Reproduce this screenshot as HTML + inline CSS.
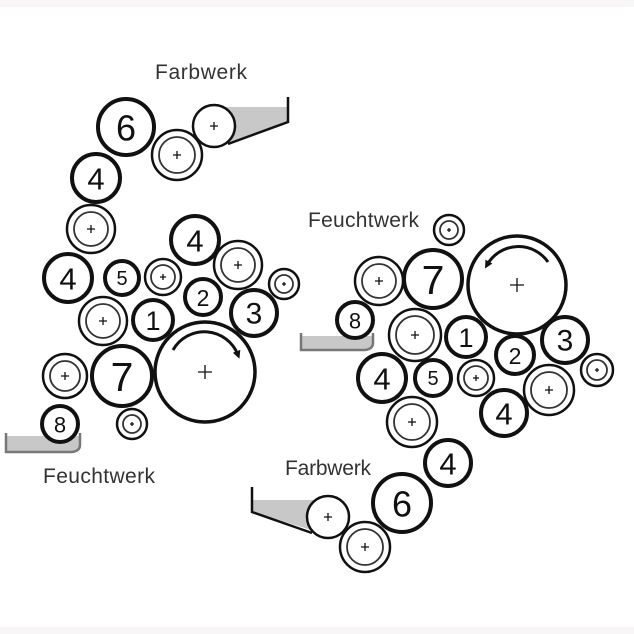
<!DOCTYPE html>
<html><head><meta charset="utf-8"><style>
html,body{margin:0;padding:0;background:#fff;width:634px;height:634px;overflow:hidden}
svg{display:block}
text{font-family:"Liberation Sans",sans-serif;fill:#222}
.n{font-size:34px;text-anchor:middle;dominant-baseline:central;fill:#111}
.t{font-size:21px;fill:#333}
</style></head><body>
<svg width="634" height="634" viewBox="0 0 634 634">
<rect x="0" y="0" width="634" height="7" fill="#f8f6f7"/>
<rect x="0" y="627" width="634" height="7" fill="#f8f6f7"/>
<defs>
<marker id="ah" markerWidth="8" markerHeight="8" refX="4" refY="4" orient="auto" markerUnits="userSpaceOnUse"><path d="M0,0 L8,4 L0,8 z" fill="#111"/></marker>
</defs>
<g fill="none" stroke="#111">
<!-- tanks -->
<path d="M228,144 L288,122 L288,107 L226,107 Z" fill="#c8c8c8" stroke="none"/>
<path d="M288,97 L288,122 L228,144" stroke-width="2.5"/>
<path d="M6,436 L80,436 L80,448 Q78,452 70,452 L6,452 Z" fill="#c8c8c8" stroke="none"/>
<path d="M6,433 L6,452 L72,452 Q80,451 80,445 L80,433" stroke="#777" stroke-width="2.5"/>
<path d="M301,336 L373,336 L373,347 Q370,350 363,350 L301,350 Z" fill="#c8c8c8" stroke="none"/>
<path d="M301,333 L301,350 L365,350 Q373,349 373,343 L373,333" stroke="#777" stroke-width="2.5"/>
<path d="M252,500 L320,500 L318,532 L252,512 Z" fill="#c8c8c8" stroke="none"/>
<path d="M252,487 L252,512 L312,533" stroke-width="2.5"/>

<!-- LEFT -->
<g stroke-width="4">
<circle cx="126" cy="127" r="28" fill="#fff"/>
<circle cx="96" cy="178" r="24" fill="#fff"/>
<circle cx="68" cy="278" r="24" fill="#fff"/>
<circle cx="122" cy="278" r="17" fill="#fff"/>
<circle cx="195" cy="240" r="24" fill="#fff"/>
<circle cx="203" cy="297" r="18" fill="#fff"/>
<circle cx="254" cy="313" r="23" fill="#fff"/>
<circle cx="153" cy="320" r="20" fill="#fff"/>
<circle cx="122" cy="376" r="30" fill="#fff"/>
<circle cx="60" cy="424" r="18" fill="#fff"/>
</g>
<g stroke-width="2.5" fill="#fff">
<circle cx="214" cy="126" r="21"/>
<circle cx="177" cy="155" r="25"/>
<circle cx="91" cy="229" r="24"/>
<circle cx="163" cy="277" r="18"/>
<circle cx="238" cy="265" r="24"/>
<circle cx="284" cy="284" r="15"/>
<circle cx="103" cy="321" r="24"/>
<circle cx="65" cy="376" r="22"/>
<circle cx="132" cy="424" r="15"/>
</g>
<g stroke-width="1.8" stroke="#333">
<circle cx="177" cy="155" r="18"/>
<circle cx="91" cy="229" r="17"/>
<circle cx="163" cy="277" r="12"/>
<circle cx="238" cy="265" r="17"/>
<circle cx="284" cy="284" r="9"/>
<circle cx="103" cy="321" r="17"/>
<circle cx="65" cy="376" r="15"/>
<circle cx="132" cy="424" r="9"/>
</g>
<circle cx="205" cy="372" r="50" stroke-width="3.5" fill="#fff"/>
<path d="M173,350 A36,36 0 0 1 238,355" stroke-width="3" marker-end="url(#ah)"/>

<!-- RIGHT -->
<g stroke-width="4">
<circle cx="433" cy="279" r="29" fill="#fff"/>
<circle cx="355" cy="320" r="18" fill="#fff"/>
<circle cx="466" cy="337" r="20" fill="#fff"/>
<circle cx="565" cy="340" r="23" fill="#fff"/>
<circle cx="515" cy="355" r="19" fill="#fff"/>
<circle cx="382" cy="378" r="24" fill="#fff"/>
<circle cx="433" cy="378" r="18" fill="#fff"/>
<circle cx="504" cy="413" r="23" fill="#fff"/>
<circle cx="448" cy="463" r="23" fill="#fff"/>
<circle cx="402" cy="503" r="29" fill="#fff"/>
</g>
<g stroke-width="2.5" fill="#fff">
<circle cx="449" cy="230" r="15"/>
<circle cx="379" cy="281" r="24"/>
<circle cx="415" cy="335" r="26"/>
<circle cx="597" cy="370" r="16"/>
<circle cx="476" cy="378" r="18"/>
<circle cx="549" cy="390" r="25"/>
<circle cx="412" cy="422" r="25"/>
<circle cx="328" cy="517" r="21"/>
<circle cx="365" cy="547" r="25"/>
</g>
<g stroke-width="1.8" stroke="#333">
<circle cx="449" cy="230" r="9"/>
<circle cx="379" cy="281" r="17"/>
<circle cx="415" cy="335" r="19"/>
<circle cx="597" cy="370" r="10"/>
<circle cx="476" cy="378" r="12"/>
<circle cx="549" cy="390" r="18"/>
<circle cx="412" cy="422" r="18"/>
<circle cx="365" cy="547" r="18"/>
</g>
<circle cx="517" cy="285" r="49" stroke-width="3.5" fill="#fff"/>
<path d="M548,262 A36,36 0 0 0 487,265" stroke-width="3" marker-end="url(#ah)"/>

<!-- plus signs -->
<g stroke-width="1.3">
<path d="M210,126h8M214,122v8 M173,155h8M177,151v8 M87,229h8M91,225v8 M160,277h6M163,274v6 M234,265h8M238,261v8 M282,284h4M284,282v4 M99,321h8M103,317v8 M61,376h8M65,372v8 M130,424h4M132,422v4"/>
<path d="M198,372h14M205,365v14"/>
<path d="M447,230h4M449,228v4 M375,281h8M379,277v8 M411,335h8M415,331v8 M595,370h4M597,368v4 M473,378h6M476,375v6 M545,390h8M549,386v8 M408,422h8M412,418v8 M324,517h8M328,513v8 M361,547h8M365,543v8"/>
<path d="M510,285h14M517,278v14"/>
</g>
</g>
<!-- numbers -->
<text class="n" x="126" y="128" style="font-size:36px">6</text>
<text class="n" x="96" y="179" style="font-size:31px">4</text>
<text class="n" x="68" y="279" style="font-size:31px">4</text>
<text class="n" x="122" y="279" style="font-size:20px">5</text>
<text class="n" x="195" y="241" style="font-size:31px">4</text>
<text class="n" x="203" y="298" style="font-size:23px">2</text>
<text class="n" x="254" y="314" style="font-size:30px">3</text>
<text class="n" x="153" y="321" style="font-size:27px">1</text>
<text class="n" x="122" y="377" style="font-size:41px">7</text>
<text class="n" x="60" y="425" style="font-size:22px">8</text>

<text class="n" x="433" y="280" style="font-size:41px">7</text>
<text class="n" x="355" y="321" style="font-size:22px">8</text>
<text class="n" x="466" y="338" style="font-size:27px">1</text>
<text class="n" x="565" y="341" style="font-size:30px">3</text>
<text class="n" x="515" y="356" style="font-size:23px">2</text>
<text class="n" x="382" y="379" style="font-size:31px">4</text>
<text class="n" x="433" y="379" style="font-size:20px">5</text>
<text class="n" x="504" y="414" style="font-size:31px">4</text>
<text class="n" x="448" y="464" style="font-size:31px">4</text>
<text class="n" x="402" y="504" style="font-size:36px">6</text>

<text class="t" x="155" y="79" textLength="92">Farbwerk</text>
<text class="t" x="43" y="483" textLength="112">Feuchtwerk</text>
<text class="t" x="308" y="227" textLength="111">Feuchtwerk</text>
<text class="t" x="285" y="475" textLength="86">Farbwerk</text>
</svg>
</body></html>
